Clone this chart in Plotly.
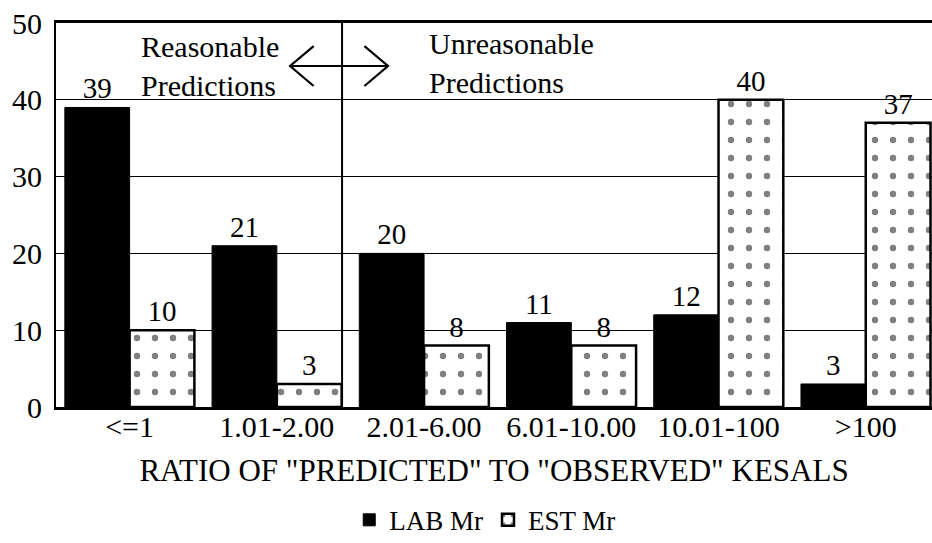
import plotly.graph_objects as go

categories = ["<=1", "1.01-2.00", "2.01-6.00", "6.01-10.00", "10.01-100", ">100"]
lab_mr = [39, 21, 20, 11, 12, 3]
est_mr = [10, 3, 8, 8, 40, 37]
y_ticks = [0, 10, 20, 30, 40, 50]

FONT = "Liberation Serif"

fig = go.Figure()
fig.add_trace(go.Bar(
    x=categories, y=lab_mr, name="LAB Mr",
    marker=dict(color="black", line=dict(color="black", width=1)),
    text=[str(v) for v in lab_mr], textposition="outside",
    textfont=dict(size=29, color="black", family=FONT),
    cliponaxis=False,
))
fig.add_trace(go.Bar(
    x=categories, y=est_mr, name="EST Mr",
    marker=dict(color="white", line=dict(color="black", width=2.5),
                pattern=dict(shape=".", fgcolor="black", bgcolor="white",
                             size=18, solidity=0.1)),
    text=[str(v) for v in est_mr], textposition="outside",
    textfont=dict(size=29, color="black", family=FONT),
    cliponaxis=False,
))

# divider between reasonable and unreasonable predictions
fig.add_shape(type="line", xref="x", yref="y", x0=1.443, x1=1.443, y0=0, y1=50,
              line=dict(color="black", width=2))

# double-headed arrow with open chevron heads
ARROW_X0, ARROW_X1, ARROW_Y = 1.09, 1.755, 44.4
HEAD_DX, HEAD_DY = 0.16, 2.6
fig.add_shape(type="line", xref="x", yref="y", x0=ARROW_X0, x1=ARROW_X1,
              y0=ARROW_Y, y1=ARROW_Y, line=dict(color="black", width=2))
fig.add_shape(type="path", xref="x", yref="y",
              path=f"M {ARROW_X0 + HEAD_DX},{ARROW_Y + HEAD_DY} L {ARROW_X0},{ARROW_Y} "
                   f"L {ARROW_X0 + HEAD_DX},{ARROW_Y - HEAD_DY}",
              line=dict(color="black", width=2.2))
fig.add_shape(type="path", xref="x", yref="y",
              path=f"M {ARROW_X1 - HEAD_DX},{ARROW_Y + HEAD_DY} L {ARROW_X1},{ARROW_Y} "
                   f"L {ARROW_X1 - HEAD_DX},{ARROW_Y - HEAD_DY}",
              line=dict(color="black", width=2.2))

fig.add_annotation(x=0.064, y=44.4, xref="x", yref="y", text="Reasonable<br>Predictions",
                   showarrow=False, xanchor="left", yanchor="middle", align="left",
                   font=dict(size=30, family=FONT, color="black"))
fig.add_annotation(x=2.02, y=44.8, xref="x", yref="y", text="Unreasonable<br>Predictions",
                   showarrow=False, xanchor="left", yanchor="middle", align="left",
                   font=dict(size=30, family=FONT, color="black"))

fig.update_layout(
    width=932, height=543,
    margin=dict(l=56, r=0, t=23, b=136, autoexpand=False),
    paper_bgcolor="white", plot_bgcolor="white",
    font=dict(family=FONT, color="black", size=28),
    barmode="group", bargap=0.12, bargroupgap=0,
    showlegend=True,
    legend=dict(orientation="h", x=0.49, xanchor="center", y=-0.295, yanchor="middle",
                font=dict(size=27, family=FONT), itemwidth=30,
                tracegroupgap=0),
)
fig.update_xaxes(
    range=[-0.5, 5.45], showline=True, linecolor="black", linewidth=2.5, mirror=True,
    showgrid=False, ticks="", tickfont=dict(size=30, family=FONT), ticklabelstandoff=-9,
    automargin=False,
    title=dict(text='RATIO OF "PREDICTED" TO "OBSERVED" KESALS',
               font=dict(size=31, family=FONT), standoff=18),
)
fig.update_yaxes(
    range=[0, 50], tickvals=y_ticks, showline=True, linecolor="black", linewidth=2,
    showgrid=True, gridcolor="black", gridwidth=1, zeroline=False, ticks="",
    tickfont=dict(size=30, family=FONT), ticklabelstandoff=6, automargin=False,
)

fig.write_html("out.html")
